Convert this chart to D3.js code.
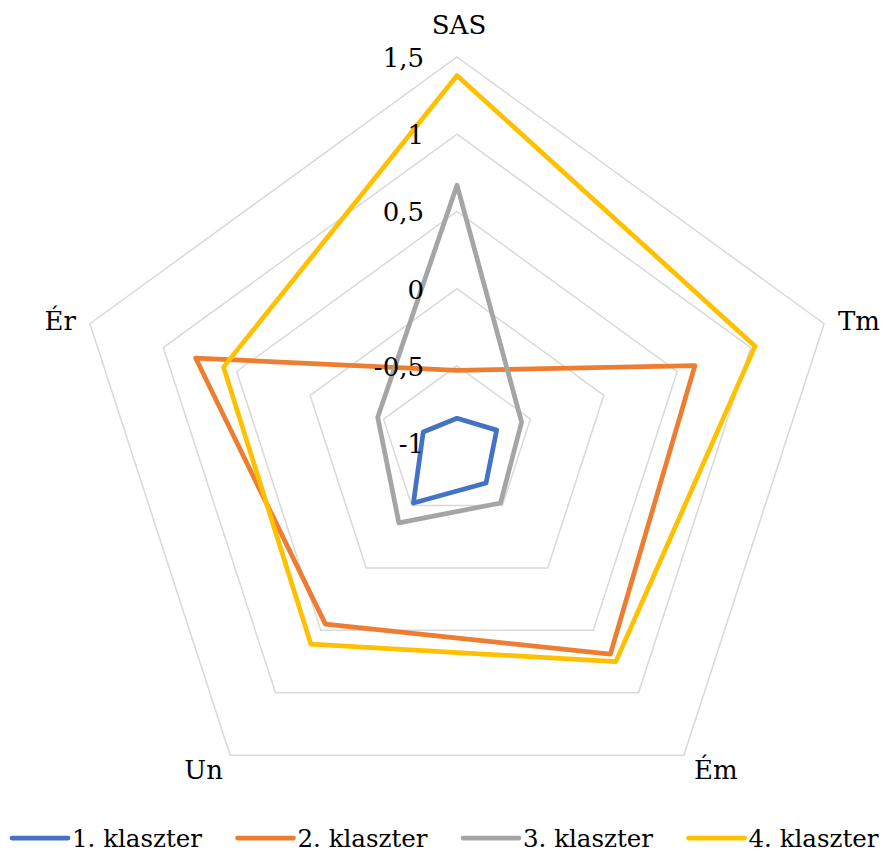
<!DOCTYPE html>
<html>
<head>
<meta charset="utf-8">
<script src="https://cdn.jsdelivr.net/npm/d3@7"></script>
<style>
  html, body { margin: 0; padding: 0; background: #fff; }
  svg { display: block; }
</style>
</head>
<body>
<svg id="chart" width="886" height="852"></svg>
<script>
// Axis categories (clockwise from top)
const axes = ["SAS", "Tm", "Ém", "Un", "Ér"];

// Cluster names and their mean values on each axis
const seriesNames = ["1. klaszter", "2. klaszter", "3. klaszter", "4. klaszter"];
const cluster1 = [-0.84, -0.73, -0.68, -0.52, -0.77];
const cluster2 = [-0.53, 0.62, 0.69, 0.45, 0.78];
const cluster3 = [0.67, -0.56, -0.52, -0.36, -0.46];
const cluster4 = [1.38, 1.03, 0.75, 0.61, 0.59];

// Radial scale ticks and their printed labels
const tickValues = [-1, -0.5, 0, 0.5, 1, 1.5];
const tickLabels = ["-1", "-0,5", "0", "0,5", "1", "1,5"];

const colors = ["#4472C4", "#ED7D31", "#A5A5A5", "#FFC000"];
const seriesValues = [cluster1, cluster2, cluster3, cluster4];

const FONT = "'DejaVu Serif', serif";
const FS = 26;

const svg = d3.select("#chart")
  .attr("font-family", FONT)
  .style("font-family", FONT);
const cx = 457, cy = 443, R = 386;

const r = d3.scaleLinear().domain([-1, 1.5]).range([0, R]);
const angle = d3.scalePoint().domain(axes).range([0, 2 * Math.PI * (axes.length - 1) / axes.length]);

const g = svg.append("g").attr("transform", `translate(${cx},${cy})`);

function pt(axis, v) {
  const a = angle(axis) - Math.PI / 2;
  return [Math.cos(a) * r(v), Math.sin(a) * r(v)];
}

// Grid rings (pentagons)
const ringLine = d3.line().curve(d3.curveLinearClosed);
g.append("g").selectAll("path")
  .data(tickValues.slice(1))
  .join("path")
  .attr("d", v => ringLine(axes.map(a => pt(a, v))))
  .attr("fill", "none")
  .attr("stroke", "#D9D9D9")
  .attr("stroke-width", 1.5);

// Series outlines
const series = seriesNames.map((name, i) => ({ name, color: colors[i], values: seriesValues[i] }));
g.append("g").selectAll("path")
  .data(series)
  .join("path")
  .attr("d", s => ringLine(axes.map((a, j) => pt(a, s.values[j]))))
  .attr("fill", "none")
  .attr("stroke", s => s.color)
  .attr("stroke-width", 4.75)
  .attr("stroke-linejoin", "round");

// Radial tick labels along the first axis
g.append("g").selectAll("text")
  .data(tickValues)
  .join("text")
  .attr("x", -33)
  .attr("y", v => -r(v) + 10)
  .attr("text-anchor", "end")
  .attr("font-size", FS)
  .text((v, i) => tickLabels[i]);

// Category labels
const catPos = {
  "SAS": { x: 459, y: 34, anchor: "middle" },
  "Tm":  { x: 838, y: 330, anchor: "start" },
  "Ém":  { x: 694, y: 779, anchor: "start" },
  "Un":  { x: 223, y: 779, anchor: "end" },
  "Ér":  { x: 76,  y: 330, anchor: "end" }
};
svg.append("g").selectAll("text")
  .data(axes)
  .join("text")
  .attr("x", d => catPos[d].x)
  .attr("y", d => catPos[d].y)
  .attr("text-anchor", d => catPos[d].anchor)
  .attr("font-size", FS)
  .text(d => d);

// Legend
const legend = svg.append("g").attr("transform", "translate(12,838)");
const item = legend.selectAll("g")
  .data(series)
  .join("g")
  .attr("transform", (d, i) => `translate(${i * 225.5},0)`);
item.append("line")
  .attr("x1", 0).attr("x2", 56)
  .attr("stroke", d => d.color)
  .attr("stroke-width", 4.75)
  .attr("stroke-linecap", "round");
item.append("text")
  .attr("x", 60)
  .attr("y", 9)
  .attr("font-size", 24.5)
  .text(d => d.name);
</script>
</body>
</html>
